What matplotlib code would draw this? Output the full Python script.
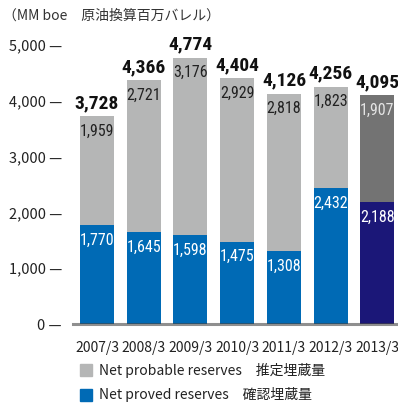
import matplotlib
matplotlib.use("Agg")
import matplotlib.pyplot as plt
from matplotlib.patches import Rectangle
from matplotlib import font_manager

plt.rcParams['font.family'] = ['Noto Sans CJK JP', 'DejaVu Sans']

# Reserves by fiscal year end (MM boe)
years = ["2007/3", "2008/3", "2009/3", "2010/3", "2011/3", "2012/3", "2013/3"]
proved = [1770, 1645, 1598, 1475, 1308, 2432, 2188]
probable = [1959, 2721, 3176, 2929, 2818, 1823, 1907]
totals = [3728, 4366, 4774, 4404, 4126, 4256, 4095]
yticks = [0, 1000, 2000, 3000, 4000, 5000]

blue = "#006ab5"
gray = "#b5b6b6"
navy = "#1b1778"
dgray = "#737373"
proved_colors = [blue] * 6 + [navy]
probable_colors = [gray] * 6 + [dgray]
probable_text = ["#222222"] * 6 + ["#e4e4e4"]


def narrow_font(bold=False):
    """Pick an installed condensed sans face for the numbers."""
    entries = font_manager.fontManager.ttflist
    prefs = ["Roboto Condensed", "Open Sans Condensed", "Noto Sans",
             "Liberation Sans Narrow", "DejaVu Sans", "Open Sans", "Roboto"]
    def is_narrow(f):
        s = (f.name + " " + f.fname).lower()
        return ("condensed" in s or "narrow" in s or
                str(f.stretch) in ("condensed", "semi-condensed"))
    def is_bold(f):
        w = f.weight if isinstance(f.weight, int) else {"bold": 700, "semibold": 600,
                                                      "medium": 500}.get(str(f.weight), 400)
        return 550 <= w <= 700 if bold else w == 400 or f.weight == "normal"
    for p in prefs:
        for f in entries:
            if f.name.startswith(p) and is_narrow(f) and is_bold(f) \
                    and "italic" not in f.fname.lower() and f.style == "normal" \
                    and "extra" not in f.fname.lower() and "ultra" not in f.fname.lower():
                return font_manager.FontProperties(fname=f.fname)
    return font_manager.FontProperties(family="Noto Sans CJK JP",
                                       weight="bold" if bold else "normal")


num_font = narrow_font()
num_bold = narrow_font(bold=True)

W, H = 398, 405
fig = plt.figure(figsize=(W / 100, H / 100), dpi=100)
ax = fig.add_axes([73 / W, 1 - 324 / H, 1 - 73 / W, (324 - 45) / H])

x = list(range(len(years)))
bw = 0.727
ax.bar(x, proved, width=bw, color=proved_colors, zorder=2)
ax.bar(x, probable, width=bw, bottom=proved, color=probable_colors, zorder=2)

ax.set_xlim(-0.513, 6.44)
ax.set_ylim(0, 5000)

# value labels
px_per_unit = (324 - 45) / 5000
off = 15 / px_per_unit
for i in x:
    ax.text(i, proved[i] - off, f"{proved[i]:,}", ha="center", va="center",
            color="white", fontproperties=num_font, fontsize=11.5, zorder=3)
    ax.text(i, proved[i] + probable[i] - off, f"{probable[i]:,}", ha="center",
            va="center", color=probable_text[i], fontproperties=num_font,
            fontsize=11.5, zorder=3)
    ax.text(i, totals[i] + 13 / px_per_unit, f"{totals[i]:,}", ha="center",
            va="center", color="#111111", fontproperties=num_bold, fontsize=14,
            zorder=3, clip_on=False)

# baseline
ax.axhline(0, color="#444444", alpha=0.6, lw=2.2, zorder=4, clip_on=False)

for s in ax.spines.values():
    s.set_visible(False)
ax.set_yticks(yticks)
ax.set_yticklabels([f"{v:,} —" for v in yticks], fontsize=10.5, color="#222222")
ax.tick_params(axis="y", length=0, pad=8)
ax.set_xticks(x)
ax.set_xticklabels(years, fontsize=10, color="#222222")
ax.tick_params(axis="x", length=0, pad=12)

fig.text(3 / W, 1 - 16 / H, "（MM boe　原油換算百万バレル）", fontsize=10,
         color="#333333", va="center", ha="left")

# legend
legend = [(gray, "Net probable reserves　推定埋蔵量", 370),
          (blue, "Net proved reserves　確認埋蔵量", 395)]
for c, label, yc in legend:
    fig.patches.append(Rectangle((80 / W, 1 - (yc + 6) / H), 12 / W, 12 / H,
                                 transform=fig.transFigure, color=c))
    fig.text(99 / W, 1 - yc / H, label, fontsize=10, color="#222222",
             va="center", ha="left")

fig.savefig("out.png", dpi=100)
